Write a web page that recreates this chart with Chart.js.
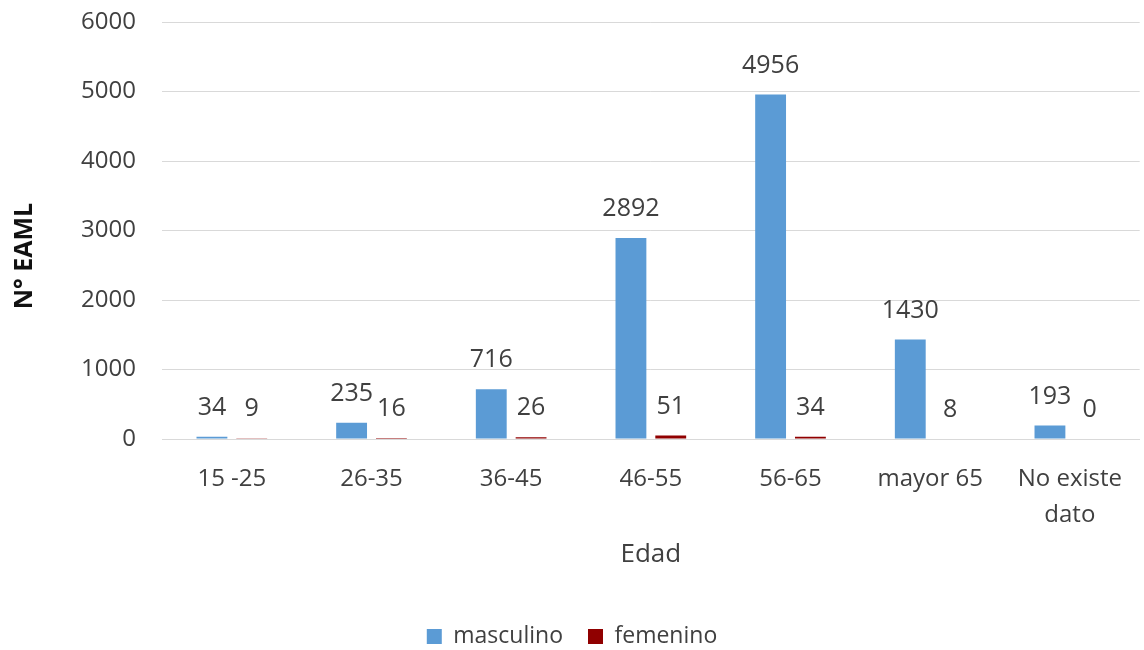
<!DOCTYPE html>
<html>
<head>
<meta charset="utf-8">
<script src="https://cdn.jsdelivr.net/npm/chart.js@4"></script>
<style>
  html, body { margin: 0; padding: 0; background: #fff; }
  #wrap { width: 1144px; height: 650px; }
</style>
</head>
<body>
<div id="wrap"><canvas id="myChart"></canvas></div>
<script>
const edades = ['15 -25', '26-35', '36-45', '46-55', '56-65', 'mayor 65', ['No existe', 'dato']];
const masculino = [34, 235, 716, 2892, 4956, 1430, 193];
const femenino = [9, 16, 26, 51, 34, 8, 0];
const yTicks = [0, 1000, 2000, 3000, 4000, 5000, 6000];

const FONT = "'Open Sans', 'Liberation Sans', sans-serif";

// etiquetas de valor encima de cada barra + titulo del eje Y
const valueLabels = {
    id: 'valueLabels',
    afterDatasetsDraw(chart) {
        const c = chart.ctx;
        c.save();
        c.font = '25px ' + FONT;
        c.fillStyle = '#404040';
        c.textAlign = 'center';
        c.textBaseline = 'middle';
        chart.data.datasets.forEach((ds, i) => {
            chart.getDatasetMeta(i).data.forEach((bar, j) => {
                c.fillText(ds.data[j], bar.x, bar.y - 29);
            });
        });
        // titulo eje Y
        c.translate(25, 256);
        c.rotate(-Math.PI / 2);
        c.font = 'bold 25px ' + FONT;
        c.fillStyle = '#111';
        c.fillText('N° EAML', 0, 0);
        c.restore();
    }
};

const ctx = document.getElementById('myChart');

const data = {
    labels: edades,
    datasets: [
        {
            label: 'masculino',
            data: masculino,
            backgroundColor: '#5B9BD5',
            categoryPercentage: 0.57,
            barPercentage: 0.775
        },
        {
            label: 'femenino',
            data: femenino,
            backgroundColor: '#900000',
            categoryPercentage: 0.57,
            barPercentage: 0.775
        }
    ]
};

const options = {
    responsive: true,
    maintainAspectRatio: false,
    animation: false,
    layout: { padding: { top: 22, right: 0, left: 0, bottom: -8 } },
    plugins: {
        legend: {
            position: 'bottom',
            labels: {
                font: { family: FONT, size: 23 },
                color: '#404040',
                boxWidth: 15,
                boxHeight: 15,
                padding: 2,
                // espacio extra entre las dos entradas
                generateLabels: (chart) => {
                    const items = Chart.defaults.plugins.legend.labels.generateLabels(chart);
                    items[0].text = items[0].text + '\u2002\u2002';
                    return items;
                }
            }
        },
        tooltip: { enabled: false }
    },
    scales: {
        x: {
            grid: { display: false, drawTicks: false },
            border: { color: '#d9d9d9', width: 1 },
            ticks: {
                font: { family: FONT, size: 24, lineHeight: 1.5 },
                color: '#404040',
                padding: 22,
                maxRotation: 0,
                autoSkip: false
            },
            title: {
                display: true,
                text: 'Edad',
                font: { family: FONT, size: 26 },
                color: '#404040',
                padding: { top: 0, bottom: 53 }
            },
            afterFit: (scale) => { scale.height = 184; }
        },
        y: {
            min: 0,
            max: 6000,
            afterBuildTicks: (scale) => { scale.ticks = yTicks.map(v => ({ value: v })); },
            grid: { color: '#d9d9d9', drawTicks: false },
            border: { display: false },
            ticks: {
                font: { family: FONT, size: 24 },
                color: '#404040',
                padding: 26,
                callback: (v) => String(v)
            },
            afterFit: (scale) => {
                scale.width = 162;
                scale.paddingTop = 0;
                scale.paddingBottom = 0;
            }
        }
    }
};

const barChart = new Chart(ctx, {
    type: 'bar',
    data: data,
    options: options,
    plugins: [valueLabels]
});
</script>
</body>
</html>
